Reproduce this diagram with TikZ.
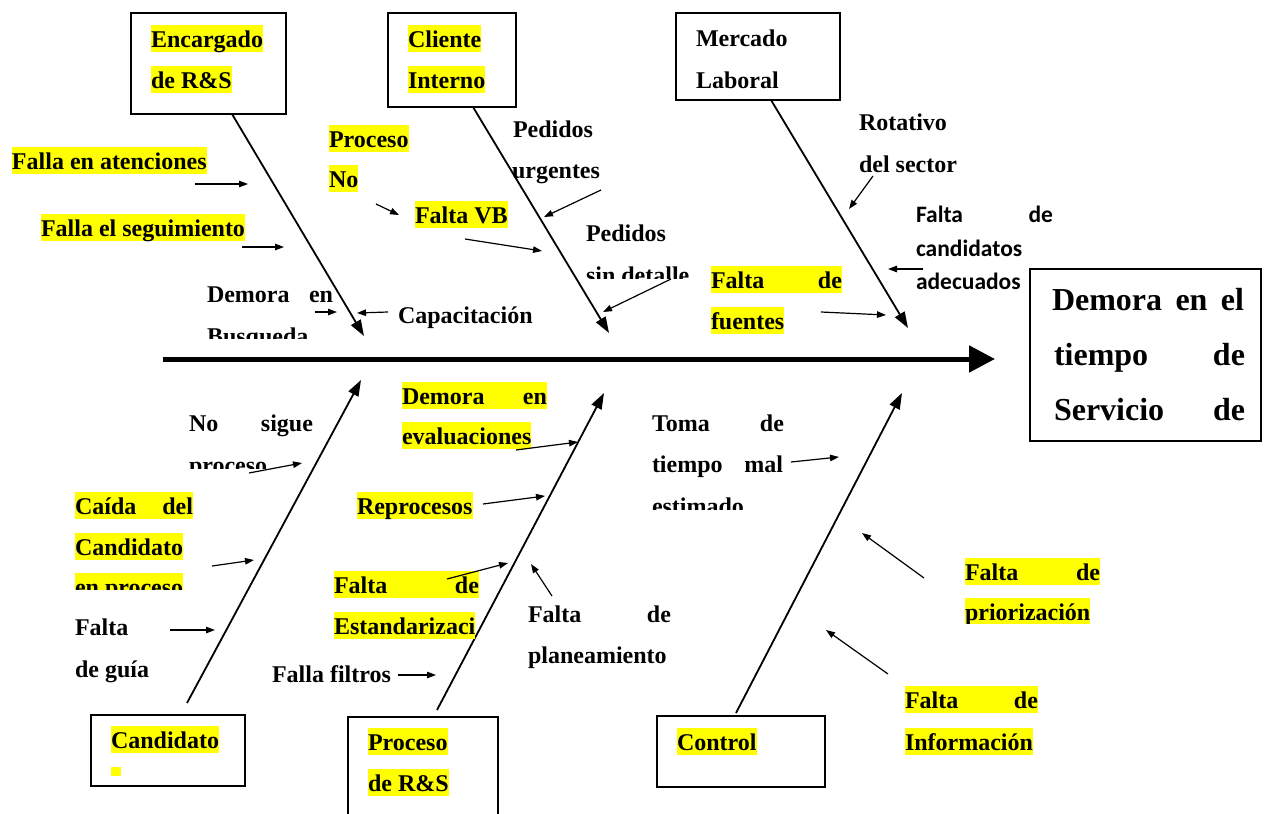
\documentclass[tikz,border=0pt]{standalone}
\usepackage{fontspec}
\setmainfont{Liberation Serif}
\newfontfamily\calibfont{Carlito}
\usetikzlibrary{arrows.meta}
\definecolor{hly}{RGB}{255,255,0}
% a justified line: first word left, last word right
\newcommand\jspread[2]{\hbox to #1pt{#2}}

\tikzset{
  every node/.style={inner sep=0pt, outer sep=0pt},
  lbl/.style={anchor=base west, font=\fontsize{24}{28}\selectfont\bfseries},
  hl/.style={lbl, fill=hly, text height=22pt, text depth=5pt},
  bigtxt/.style={anchor=base west, font=\fontsize{32}{36}\selectfont\bfseries},
  sanstxt/.style={anchor=base west, font=\calibfont\fontsize{23.5}{27}\selectfont\bfseries},
  cbox/.style={draw, line width=1.6pt, anchor=north west},
  bone/.style={line width=1.8pt, -{Triangle[length=16pt,width=11pt]}},
  cause/.style={line width=1.2pt, -{Triangle[length=9pt,width=6.5pt]}},
  spine/.style={line width=5pt, -{Triangle[length=26pt,width=26pt]}}
}

\begin{document}
\begin{tikzpicture}[x=1pt, y=-1pt]
\useasboundingbox (0,0) rectangle (1267,814);

% ---------- category boxes ----------
\node[cbox, minimum width=155pt, minimum height=101pt] (bxEnc) at (131,13) {};
\node[cbox, minimum width=128pt, minimum height=94pt] (bxCli) at (388,13) {};
\node[cbox, minimum width=164pt, minimum height=87pt] (bxMer) at (676,13) {};
\node[cbox, minimum width=154pt, minimum height=71pt] (bxCan) at (91,715) {};
\node[cbox, minimum width=150pt, minimum height=103pt] (bxPro) at (348,717) {};
\node[cbox, minimum width=168pt, minimum height=71pt] (bxCon) at (657,716) {};
\node[cbox, minimum width=231pt, minimum height=172pt] (bxEff) at (1030,269) {};

% ---------- box texts ----------
\node[hl] (tEnc1) at (151,47) {Encargado};
\node[hl] (tEnc2) at (151,88) {de R\&S};
\node[hl] (tCli1) at (408,47) {Cliente};
\node[hl] (tCli2) at (408,88) {Interno};
\node[lbl] (tMer1) at (696,46) {Mercado};
\node[lbl] (tMer2) at (696,88) {Laboral};
\node[hl] (tCan1) at (111,748) {Candidato};
\node[fill=hly, minimum width=10pt, minimum height=9pt, anchor=north west] (tCan2) at (111,767) {};
\node[hl] (tPro1) at (368,750) {Proceso};
\node[hl] (tPro2) at (368,791) {de R\&S};
\node[hl] (tCon1) at (677,750) {Control};

\node[bigtxt] (tEff1) at (1052,310) {\jspread{192}{Demora\hfill en\hfill el}};
\node[bigtxt] (tEff2) at (1054,365) {\jspread{191}{tiempo\hfill de}};
\node[bigtxt] (tEff3) at (1054,420) {\jspread{191}{Servicio\hfill de}};

% ---------- spine ----------
\coordinate (spS) at (163,359);
\coordinate (spE) at (995,359);
\draw[spine] (spS) -- (spE);

% ---------- bones ----------
\coordinate (bA1) at (232,114); \coordinate (bA2) at (364,336);
\coordinate (bB1) at (473,107); \coordinate (bB2) at (609,333);
\coordinate (bC1) at (771,100); \coordinate (bC2) at (908,328);
\coordinate (bD1) at (187,703); \coordinate (bD2) at (361,380);
\coordinate (bE1) at (437,710); \coordinate (bE2) at (604,393);
\coordinate (bF1) at (736,713); \coordinate (bF2) at (902,393);
\draw[bone] (bA1) -- (bA2);
\draw[bone] (bB1) -- (bB2);
\draw[bone] (bC1) -- (bC2);
\draw[bone] (bD1) -- (bD2);
\draw[bone] (bE1) -- (bE2);
\draw[bone] (bF1) -- (bF2);

% ---------- upper causes ----------
\node[hl] (cAte) at (12,169) {Falla en atenciones};
\node[hl] (cSeg) at (41,236) {Falla el seguimiento};
\node[lbl] (cBus1) at (207,302) {\jspread{126}{Demora\hfill en}};
\begin{scope}
  \clip (150,320) rectangle (400,338);
  \node[lbl] (cBus2) at (207,344) {Busqueda};
\end{scope}
\node[lbl] (cCap) at (398,323) {Capacitación};
\node[hl] (cPNo1) at (329,147) {Proceso};
\node[hl] (cPNo2) at (329,187) {No};
\node[hl] (cVB) at (415,223) {Falta VB};
\node[lbl] (cUrg1) at (513,137) {Pedidos};
\node[lbl] (cUrg2) at (512,178) {urgentes};
\node[lbl] (cDet1) at (586,241) {Pedidos};
\begin{scope}
  \clip (560,250) rectangle (720,278);
  \node[lbl] (cDet2) at (586,283) {sin detalle};
\end{scope}
\node[hl] (cFue1) at (711,288) {\jspread{131}{Falta\hfill de}};
\node[hl] (cFue2) at (711,329) {fuentes};
\node[lbl] (cRot1) at (859,130) {Rotativo};
\node[lbl] (cRot2) at (859,172) {del sector};
\node[sanstxt] (cAde1) at (916,222) {\jspread{137}{Falta\hfill de}};
\node[sanstxt] (cAde2) at (916,256) {candidatos};
\node[sanstxt] (cAde3) at (916,289) {adecuados};

% ---------- lower causes ----------
\node[lbl] (cSig1) at (189,431) {\jspread{124}{No\hfill sigue}};
\begin{scope}
  \clip (150,440) rectangle (330,468);
  \node[lbl] (cSig2) at (189,473) {proceso};
\end{scope}
\node[hl] (cCai1) at (75,514) {\jspread{118}{Caída\hfill del}};
\node[hl] (cCai2) at (75,555) {Candidato};
\begin{scope}
  \clip (60,565) rectangle (220,589);
  \node[hl] (cCai3) at (75,595) {en proceso};
\end{scope}
\node[lbl] (cGui1) at (75,635) {Falta};
\node[lbl] (cGui2) at (75,677) {de guía};
\node[lbl] (cFil) at (272,682) {Falla filtros};
\node[hl] (cEva1) at (402,404) {\jspread{145}{Demora\hfill en}};
\node[hl] (cEva2) at (402,444) {evaluaciones};
\node[hl] (cRep) at (357,514) {Reprocesos};
\node[hl] (cEst1) at (334,593) {\jspread{145}{Falta\hfill de}};
\node[hl] (cEst2) at (334,634) {Estandarizaci};
\node[lbl] (cPla1) at (528,622) {\jspread{143}{Falta\hfill de}};
\node[lbl] (cPla2) at (528,663) {planeamiento};
\node[lbl] (cTom1) at (652,431) {\jspread{132}{Toma\hfill de}};
\node[lbl] (cTom2) at (652,472) {\jspread{131}{tiempo\hfill mal}};
\begin{scope}
  \clip (630,480) rectangle (800,509);
  \node[lbl] (cTom3) at (652,514) {estimado};
\end{scope}
\node[hl] (cPri1) at (965,580) {\jspread{135}{Falta\hfill de}};
\begin{scope}
  \clip (950,590) rectangle (1120,623);
  \node[hl] (cPri2) at (965,620) {priorización};
\end{scope}
\node[hl] (cInf1) at (905,708) {\jspread{133}{Falta\hfill de}};
\node[hl] (cInf2) at (905,750) {Información};

% ---------- cause arrows ----------
\coordinate (a1s) at (195,184); \coordinate (a1e) at (248,184);
\coordinate (a2s) at (242,247); \coordinate (a2e) at (284,247);
\coordinate (a3s) at (315,312); \coordinate (a3e) at (337,312);
\coordinate (a4s) at (388,312); \coordinate (a4e) at (357,313);
\coordinate (a5s) at (376,204); \coordinate (a5e) at (399,215);
\coordinate (a6s) at (465,239); \coordinate (a6e) at (542,251);
\coordinate (a7s) at (601,190); \coordinate (a7e) at (544,217);
\coordinate (a8s) at (671,279); \coordinate (a8e) at (603,312);
\coordinate (a9s) at (873,176); \coordinate (a9e) at (849,209);
\coordinate (a10s) at (923,269); \coordinate (a10e) at (888,269);
\coordinate (a11s) at (821,312); \coordinate (a11e) at (886,315);
\coordinate (a12s) at (249,473); \coordinate (a12e) at (302,463);
\coordinate (a13s) at (212,566); \coordinate (a13e) at (254,560);
\coordinate (a14s) at (170,630); \coordinate (a14e) at (215,630);
\coordinate (a15s) at (516,450); \coordinate (a15e) at (578,442);
\coordinate (a16s) at (483,504); \coordinate (a16e) at (545,496);
\coordinate (a17s) at (447,579); \coordinate (a17e) at (508,563);
\coordinate (a18s) at (552,596); \coordinate (a18e) at (531,564);
\coordinate (a19s) at (398,675); \coordinate (a19e) at (436,675);
\coordinate (a20s) at (791,462); \coordinate (a20e) at (839,457);
\coordinate (a21s) at (924,578); \coordinate (a21e) at (862,533);
\coordinate (a22s) at (888,674); \coordinate (a22e) at (826,630);
\foreach \i in {1,...,22} {
  \draw[cause] (a\i s) -- (a\i e);
}
\end{tikzpicture}
\end{document}
